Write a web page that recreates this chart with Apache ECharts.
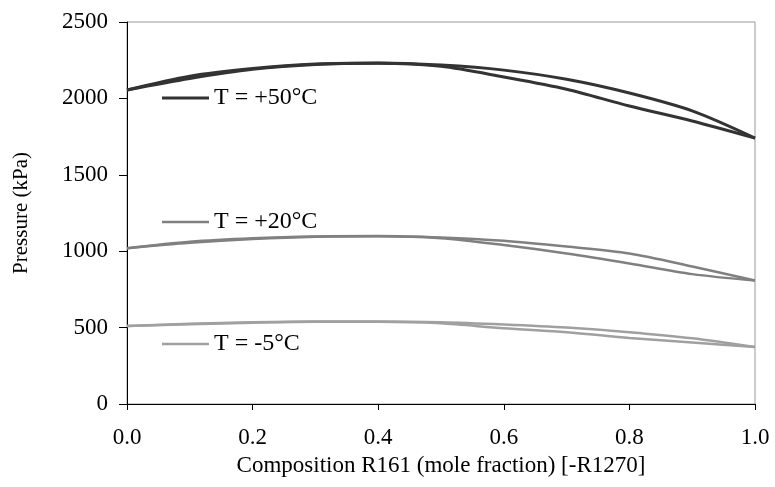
<!DOCTYPE html>
<html>
<head>
<meta charset="utf-8">
<script src="https://cdn.jsdelivr.net/npm/echarts@6/dist/echarts.min.js"></script>
<style>
  html, body { margin: 0; padding: 0; background: #fff; }
  #chart { width: 775px; height: 487px; }
</style>
</head>
<body>
<div id="chart"></div>
<script>
// composition R161 (mole fraction)
const xs = [0, 0.1, 0.2, 0.3, 0.4, 0.5, 0.6, 0.7, 0.8, 0.9, 1.0];

// pressure (kPa), upper and lower branch for each temperature
const p50Upper = [2055, 2145, 2195, 2225, 2232, 2218, 2185, 2125, 2035, 1918, 1740];
const p50Lower = [2055, 2130, 2190, 2222, 2230, 2210, 2140, 2060, 1950, 1852, 1740];
const p20Upper = [1020, 1062, 1085, 1097, 1100, 1090, 1068, 1030, 985, 900, 808];
const p20Lower = [1020, 1055, 1080, 1095, 1098, 1085, 1040, 985, 920, 850, 808];
const pm5Upper = [510, 525, 535, 540, 540, 535, 520, 500, 470, 430, 373];
const pm5Lower = [510, 522, 532, 538, 538, 528, 495, 470, 432, 402, 373];

const names = ["T = +50°C", "T = +20°C", "T = -5°C"];
const yTicks = [0, 500, 1000, 1500, 2000, 2500];

const font = "'Liberation Serif', 'Times New Roman', serif";
const colors = ["#333333", "#808080", "#a0a0a0"];
const widths = [3, 2.5, 2.5];

let pairs = (vals) => xs.map((x, i) => [x, vals[i]]);

let mkSeries = (name, vals, k) => ({
  name: name,
  type: "line",
  data: pairs(vals),
  smooth: 0.3,
  showSymbol: false,
  symbol: "none",
  lineStyle: { color: colors[k], width: widths[k] },
  itemStyle: { color: colors[k] },
  emphasis: { disabled: true }
});

// one legend per temperature so each label sits by its own curve pair
let mkLegend = (k, top) => ({
  data: [names[k]],
  left: 162,
  top: top,
  padding: 0,
  icon: "rect",
  itemWidth: 47,
  itemHeight: widths[k],
  selectedMode: false,
  textStyle: { fontFamily: font, fontSize: 24, color: "#000" }
});

const chart = echarts.init(document.getElementById("chart"));

chart.setOption({
  animation: false,
  backgroundColor: "#fff",
  grid: {
    left: 127, right: 20, top: 22, bottom: 83,
    show: true, borderColor: "#999", borderWidth: 1
  },
  legend: [mkLegend(0, 86), mkLegend(1, 210), mkLegend(2, 332)],
  xAxis: {
    type: "value",
    min: 0, max: 1, interval: 0.2,
    name: "Composition R161 (mole fraction) [-R1270]",
    nameLocation: "middle",
    nameGap: 50,
    nameTextStyle: { fontFamily: font, fontSize: 23, color: "#000" },
    axisLine: { show: true, onZero: false, lineStyle: { color: "#000", width: 1 } },
    axisTick: { show: true, length: 6, lineStyle: { color: "#000" } },
    axisLabel: {
      fontFamily: font, fontSize: 23, color: "#000", margin: 22,
      formatter: v => v.toFixed(1)
    },
    splitLine: { show: false }
  },
  yAxis: {
    type: "value",
    min: yTicks[0], max: yTicks[yTicks.length - 1], interval: 500,
    name: "Pressure (kPa)",
    nameLocation: "middle",
    nameGap: 95,
    nameTextStyle: { fontFamily: font, fontSize: 21, color: "#000" },
    axisLine: { show: true, lineStyle: { color: "#000", width: 1 } },
    axisTick: { show: true, length: 8, lineStyle: { color: "#000" } },
    axisLabel: {
      fontFamily: font, fontSize: 23, color: "#000", margin: 19,
      formatter: v => String(v)
    },
    splitLine: { show: false }
  },
  series: [
    mkSeries(names[0], p50Upper, 0),
    mkSeries(names[0], p50Lower, 0),
    mkSeries(names[1], p20Upper, 1),
    mkSeries(names[1], p20Lower, 1),
    mkSeries(names[2], pm5Upper, 2),
    mkSeries(names[2], pm5Lower, 2)
  ]
});
</script>
</body>
</html>
